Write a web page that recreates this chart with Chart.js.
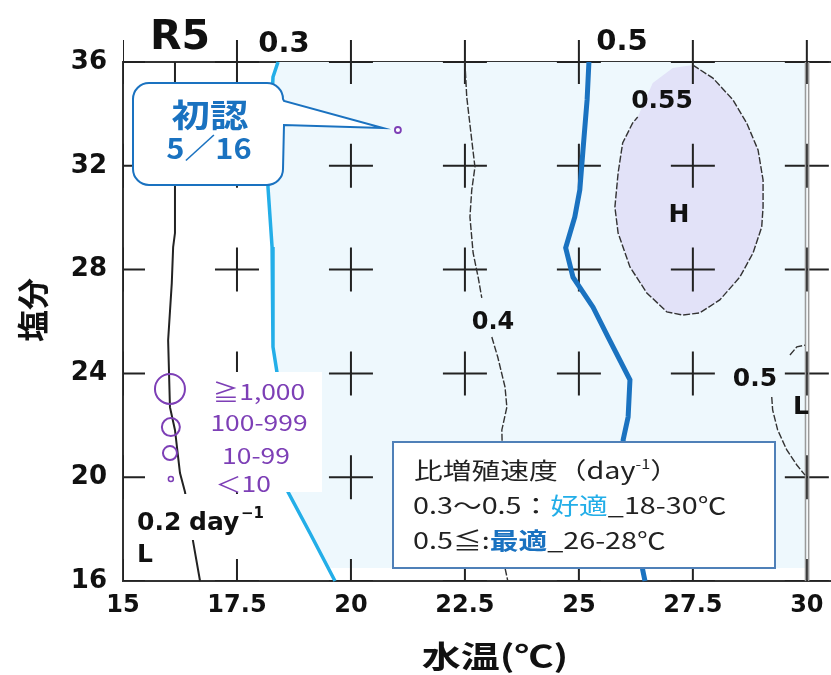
<!DOCTYPE html>
<html>
<head>
<meta charset="utf-8">
<script src="https://cdn.jsdelivr.net/npm/chart.js@4.4.1/dist/chart.umd.min.js"></script>
<style>html,body{margin:0;padding:0;background:#fff}</style>
</head>
<body>
<canvas id="c" width="831" height="675"></canvas>
<script>
// axis ticks
const xTicks = [15, 17.5, 20, 22.5, 25, 27.5, 30];
const yTicks = [16, 20, 24, 28, 32, 36];

// growth-rate contours, water temp (x) vs salinity (y)
const c02Temp = [16.14, 16.14, 16.10, 16.07, 15.99, 16.03, 16.14, 16.25, 16.36, 16.54, 16.69];
const c02Sal  = [36.00, 29.41, 28.87, 27.48, 25.28, 22.70, 21.82, 20.16, 19.43, 17.50, 16.00];

const c03Temp = [18.40, 18.29, 18.18, 18.27, 18.29, 18.38, 18.62, 19.10, 19.65];
const c03Sal  = [36.00, 35.42, 31.18, 28.87, 25.02, 24.02, 19.43, 17.85, 16.00];

const c04aTemp = [22.50, 22.54, 22.65, 22.72, 22.65, 22.61, 22.68, 22.79, 22.87];
const c04aSal  = [36.00, 34.65, 32.99, 31.95, 31.07, 30.03, 28.64, 27.71, 26.91];
const c04bTemp = [23.09, 23.22, 23.38, 23.42, 23.31, 23.38, 23.44];
const c04bSal  = [25.40, 24.63, 23.47, 22.70, 21.82, 16.50, 16.00];

const c05Temp = [25.22, 25.18, 25.09, 25.02, 24.91, 24.71, 24.87, 25.31, 25.64, 26.12, 26.08, 25.97, 26.40, 26.45];
const c05Sal  = [36.00, 34.54, 32.61, 31.07, 30.03, 28.84, 27.71, 26.55, 25.40, 23.75, 22.32, 21.43, 16.42, 16.00];

const c05rATemp = [29.63, 29.78, 29.96];
const c05rASal  = [24.71, 25.02, 25.09];
const c05rBTemp = [29.23, 29.25, 29.36, 29.56, 29.78, 29.96];
const c05rBSal  = [23.09, 22.59, 21.82, 21.05, 20.47, 20.08];

const c055Temp = [27.50, 27.94, 28.38, 28.68, 28.93, 29.04, 29.04, 29.01, 28.82, 28.53, 28.09, 27.65,
                  27.28, 26.93, 26.49, 26.12, 25.86, 25.79, 25.86, 25.96, 26.18, 26.29];
const c055Sal  = [35.88, 35.38, 34.54, 33.65, 32.61, 31.45, 30.41, 29.64, 28.64, 27.71, 26.83, 26.33,
                  26.25, 26.37, 27.10, 28.10, 29.41, 30.41, 31.72, 32.88, 33.65, 33.88];
const c055GapTemp = [26.62, 27.06];
const c055GapSal  = [35.19, 35.77];

// first sighting
const obsTemp = [21.03];
const obsSal  = [33.38];

// cell-count legend markers
const sizeTemp   = [16.03, 16.05, 16.03, 16.05];
const sizeSal    = [23.40, 21.93, 20.93, 19.93];
const sizeLabels = ['≧1,000', '100-999', '10-99', '＜10'];

const pts = (xs, ys) => xs.map((x, i) => ({ x: x, y: ys[i] }));

const crosses = [];
xTicks.forEach(x => yTicks.forEach(y => crosses.push({ x: x, y: y })));

const paleFill = pts(c03Temp, c03Sal).filter(p => p.y > 16.5)
  .concat([{ x: 19.50, y: 16.5 }, { x: 30, y: 16.5 }, { x: 30, y: 36 }]);
const hFill = pts(c055Temp, c055Sal).concat(pts(c055GapTemp, c055GapSal));

const PURPLE = '#7d3fb6';
const BLUE = '#1a72c0';
const CYAN = '#23aee8';

function line(data, color, width, dash, order) {
  return { data: data, showLine: true, borderColor: color, borderWidth: width, borderDash: dash || [],
           pointRadius: 0, fill: false, tension: 0, order: order, clip: 2 };
}

function txt(ctx, s, x, y, font, color, align, sx, base) {
  ctx.save();
  ctx.font = font;
  ctx.fillStyle = color;
  ctx.textAlign = align || 'center';
  ctx.textBaseline = base || 'middle';
  ctx.translate(x, y);
  ctx.scale(sx || 1, 1);
  ctx.fillText(s, 0, 0);
  ctx.restore();
}

function runs(ctx, parts, x, y, sx) {
  let cx = x;
  parts.forEach(p => {
    ctx.save();
    ctx.font = (p.w || 'normal') + ' ' + (p.size || 23) + 'px "Noto Sans CJK JP"';
    const wd = ctx.measureText(p.t).width * sx;
    ctx.fillStyle = p.c || '#222';
    ctx.textAlign = 'left';
    ctx.textBaseline = 'middle';
    ctx.translate(cx, y + (p.dy || 0));
    ctx.scale(sx, 1);
    ctx.fillText(p.t, 0, 0);
    ctx.restore();
    cx += wd;
  });
}

const overlay = {
  id: 'overlay',
  afterDatasetsDraw(chart) {
    const ctx = chart.ctx;
    const xs = chart.scales.x, ys = chart.scales.y;

    // callout box
    const tipX = xs.getPixelForValue(obsTemp[0]) - 15;
    const tipY = ys.getPixelForValue(obsSal[0]) - 2;
    const x0 = 133, y0 = 83, x1 = 283, y1 = 185, r = 16;
    ctx.save();
    ctx.beginPath();
    ctx.moveTo(x0 + r, y0);
    ctx.lineTo(x1 - r, y0);
    ctx.arcTo(x1, y0, x1, y0 + r, r);
    ctx.lineTo(x1 + 1, 101);
    ctx.lineTo(tipX, tipY);
    ctx.lineTo(x1 + 1, 125);
    ctx.lineTo(x1, y1 - r);
    ctx.arcTo(x1, y1, x1 - r, y1, r);
    ctx.lineTo(x0 + r, y1);
    ctx.arcTo(x0, y1, x0, y1 - r, r);
    ctx.lineTo(x0, y0 + r);
    ctx.arcTo(x0, y0, x0 + r, y0, r);
    ctx.closePath();
    ctx.fillStyle = '#fff';
    ctx.fill();
    ctx.lineWidth = 2;
    ctx.strokeStyle = BLUE;
    ctx.stroke();

    // white backs behind in-plot labels
    ctx.fillStyle = '#fff';
    ctx.fillRect(200, 372, 122, 120);
    ctx.fillRect(135, 494, 132, 46);

    // growth-rate legend box
    ctx.fillRect(393, 442, 382, 126);
    ctx.strokeStyle = '#4f80b8';
    ctx.lineWidth = 2;
    ctx.strokeRect(393, 442, 382, 126);
    ctx.restore();

    txt(ctx, '初認', 210, 115, 'bold 32px "Noto Sans CJK JP"', BLUE, 'center', 1.2);
    txt(ctx, '5／16', 209, 148, 'bold 28px "Noto Sans CJK JP"', BLUE, 'center', 1.1);

    const sizeY = [392, 423, 456, 484];
    const sizeX = [259, 259, 256, 243];
    sizeLabels.forEach((s, i) => txt(ctx, s, sizeX[i], sizeY[i], '22px "Noto Sans CJK JP"', PURPLE, 'center', 1.2));

    runs(ctx, [{ t: '比増殖速度（day' }, { t: '-1', size: 13, dy: -6 }, { t: '）' }], 414, 470, 1.25);
    runs(ctx, [{ t: '0.3〜0.5：' }, { t: '好適', c: CYAN }, { t: '_18-30℃' }], 413, 505, 1.25);
    runs(ctx, [{ t: '0.5≦:' }, { t: '最適', c: BLUE, w: 'bold' }, { t: '_26-28℃' }], 413, 540, 1.25);

    const B = n => 'bold ' + n + 'px "DejaVu Sans"';
    txt(ctx, 'R5', 180, 38, B(41), '#111');
    txt(ctx, '0.3', 284, 44, B(29), '#111');
    txt(ctx, '0.5', 622, 42, B(29), '#111');
    txt(ctx, '0.55', 662, 101, B(25), '#111');
    txt(ctx, 'H', 679, 215, B(25), '#111');
    txt(ctx, '0.4', 493, 323, B(24), '#111');
    txt(ctx, '0.5', 755, 379, B(25), '#111');
    txt(ctx, 'L', 801, 407, B(25), '#111');
    txt(ctx, 'L', 145, 555, B(25), '#111');
    txt(ctx, '0.2', 137, 530, B(25), '#111', 'left', 1, 'alphabetic');
    txt(ctx, 'day', 189, 530, B(25), '#111', 'left', 1, 'alphabetic');
    txt(ctx, '−1', 241, 518, B(15), '#111', 'left', 1, 'alphabetic');

    txt(ctx, '水温(℃)', 495, 656, 'bold 30px "Noto Sans CJK JP"', '#111', 'center', 1.3);
    ctx.save();
    ctx.translate(33, 310);
    ctx.rotate(-Math.PI / 2);
    txt(ctx, '塩分', 0, 0, 'bold 32px "Noto Sans CJK JP"', '#111', 'center', 1);
    ctx.restore();
  }
};

const tickFont = size => ({ family: 'DejaVu Sans', weight: 'bold', size: size });

new Chart(document.getElementById('c'), {
  type: 'scatter',
  data: {
    datasets: [
      { data: pts(sizeTemp, sizeSal), pointRadius: [15, 9, 7, 2.5], pointBorderWidth: [2, 2, 2, 1.5],
        pointBorderColor: PURPLE, pointBackgroundColor: 'rgba(0,0,0,0)', order: 0 },
      { data: pts(obsTemp, obsSal), pointRadius: 3, pointBorderWidth: 1.8,
        pointBorderColor: PURPLE, pointBackgroundColor: '#fff', order: 1 },
      line(pts(c05Temp, c05Sal), BLUE, 5, null, 2),
      line(pts(c03Temp, c03Sal), CYAN, 3.5, null, 3),
      line(pts(c02Temp, c02Sal), '#222', 2, null, 4),
      line(pts(c04aTemp, c04aSal), '#333', 1.4, [7, 2], 5),
      line(pts(c04bTemp, c04bSal), '#333', 1.4, [7, 2], 6),
      line(pts(c05rATemp, c05rASal), '#333', 1.4, [7, 2], 7),
      line(pts(c05rBTemp, c05rBSal), '#333', 1.4, [7, 2], 8),
      line(pts(c055Temp, c055Sal), '#333', 1.4, [7, 2], 9),
      line([{ x: 29.97, y: 16 }, { x: 29.97, y: 36 }], '#9a9a9a', 1.5, null, 10),
      line([{ x: 30.04, y: 16 }, { x: 30.04, y: 36 }], '#9a9a9a', 1.5, null, 11),
      { data: crosses, pointStyle: 'cross', pointRadius: 22, pointBorderWidth: 2,
        pointBorderColor: '#222', order: 12, clip: { left: 0, top: false, right: false, bottom: 0 } },
      { data: hFill, showLine: true, borderWidth: 0, pointRadius: 0, fill: 'shape',
        backgroundColor: '#e2e2f8', order: 13 },
      { data: paleFill, showLine: true, borderWidth: 0, pointRadius: 0, fill: 'shape',
        backgroundColor: '#eef8fd', order: 14 }
    ]
  },
  options: {
    responsive: false,
    animation: false,
    devicePixelRatio: 1,
    events: [],
    layout: { autoPadding: false, padding: { top: 62, left: 0, right: 0, bottom: 0 } },
    plugins: { legend: { display: false }, tooltip: { enabled: false } },
    scales: {
      x: {
        type: 'linear', position: 'bottom', min: 15, max: 30.53,
        afterBuildTicks: s => { s.ticks = xTicks.map(v => ({ value: v })); },
        afterFit: s => { s.height = 94; s.paddingLeft = 0; s.paddingRight = 0; },
        grid: { display: false, drawTicks: false },
        border: { display: true, color: '#333', width: 2 },
        ticks: { font: tickFont(24), color: '#111', padding: 10, maxRotation: 0, autoSkip: false }
      },
      xTop: {
        type: 'linear', position: 'top', min: 15, max: 30.53,
        afterFit: s => { s.height = 0; s.paddingLeft = 0; s.paddingRight = 0; },
        grid: { display: false, drawTicks: false },
        border: { display: true, color: '#333', width: 2 },
        ticks: { display: false }
      },
      y: {
        type: 'linear', position: 'left', min: 16, max: 36,
        afterBuildTicks: s => { s.ticks = yTicks.map(v => ({ value: v })); },
        afterFit: s => { s.width = 123; s.paddingTop = 0; s.paddingBottom = 0; },
        grid: { display: false, drawTicks: false },
        border: { display: true, color: '#333', width: 2 },
        ticks: { font: tickFont(26), color: '#111', padding: 16 }
      }
    }
  },
  plugins: [overlay]
});
</script>
</body>
</html>
